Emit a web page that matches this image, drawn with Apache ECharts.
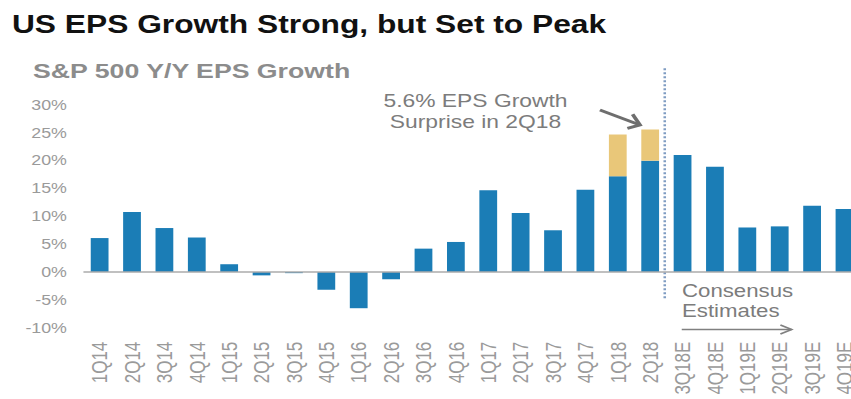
<!DOCTYPE html>
<html><head><meta charset="utf-8">
<script src="https://cdn.jsdelivr.net/npm/echarts@6/dist/echarts.min.js"></script>
<style>
html,body{margin:0;padding:0;overflow:hidden;background:#fff;width:851px;height:399px}
#c{width:690px;height:399px;transform:scaleX(1.27);transform-origin:0 0;}
</style>
</head><body><div id="c"></div>
<script>
// ---- data ----
const categories = ['1Q14','2Q14','3Q14','4Q14','1Q15','2Q15','3Q15','4Q15','1Q16','2Q16','3Q16','4Q16',
  '1Q17','2Q17','3Q17','4Q17','1Q18','2Q18','3Q18E','4Q18E','1Q19E','2Q19E','3Q19E','4Q19E'];
const epsGrowth = [6.1, 10.8, 7.9, 6.2, 1.4, -0.6, -0.2, -3.2, -6.5, -1.3, 4.2, 5.4,
  14.7, 10.6, 7.5, 14.8, 17.2, 20.0, 21.0, 18.9, 8.0, 8.2, 11.9, 11.3];
const surprise = [null,null,null,null,null,null,null,null,null,null,null,null,
  null,null,null,null,7.5,5.6,null,null,null,null,null,null];
const yMin = -10, yMax = 30, yStep = 5;
const dividerX = 17.95;          // between 2Q18 and 3Q18E on a 0..24 scale
const dividerY = [36.6, -5.0];
const titleText = 'US EPS Growth Strong, but Set to Peak';
const subtitleText = 'S&P 500 Y/Y EPS Growth';
const noteLines = ['5.6% EPS Growth', 'Surprise in 2Q18'];
const consensusLines = ['Consensus', 'Estimates'];

const FONT = '"Liberation Sans", Arial, sans-serif';
const chart = echarts.init(document.getElementById('c'), null, {renderer: 'svg'});

chart.setOption({
  animation: false,
  backgroundColor: '#fff',
  grid: {left: 65.7, top: 105, width: 612, height: 222.7, containLabel: false},
  xAxis: [{
    type: 'category', data: categories, gridIndex: 0,
    axisLine: {show: false}, axisTick: {show: false},
    axisLabel: {rotate: 90, interval: 0, margin: 14, color: '#9a9a9a', fontSize: 17, fontFamily: FONT}
  }, {
    type: 'value', min: 0, max: 24, show: false, gridIndex: 0
  }],
  yAxis: {
    type: 'value', min: yMin, max: yMax, interval: yStep,
    axisLine: {show: false}, axisTick: {show: false}, splitLine: {show: false},
    axisLabel: {formatter: '{value}%', margin: 13, color: '#9a9a9a', fontSize: 14, fontFamily: FONT}
  },
  series: [{
    type: 'bar', name: 'EPS', data: epsGrowth, stack: 'a', barWidth: 14,
    itemStyle: {color: '#1b7db6'},
    markLine: {silent: true, symbol: 'none', label: {show: false},
      lineStyle: {color: '#ababab', width: 1.5, type: 'solid'},
      data: [{yAxis: 0}]}
  }, {
    type: 'bar', name: 'Surprise', data: surprise, stack: 'a', barWidth: 14,
    itemStyle: {color: '#e9c779'}
  }, {
    type: 'line', xAxisIndex: 1, yAxisIndex: 0, clip: false, symbol: 'none', silent: true,
    data: [[dividerX, dividerY[0]], [dividerX, dividerY[1]]],
    lineStyle: {color: '#7f9cc2', width: 2, type: [2, 2]}
  }],
  graphic: [
    {type: 'text', x: 9.4, y: 24, style: {text: titleText, font: 'bold 25px ' + FONT, fill: '#111', align: 'left', verticalAlign: 'middle'}},
    {type: 'text', x: 26, y: 71, style: {text: subtitleText, font: 'bold 21px ' + FONT, fill: '#8c8c8c', align: 'left', verticalAlign: 'middle'}},
    {type: 'text', x: 374.4, y: 111, style: {text: noteLines.join('\n'), font: '18px ' + FONT, lineHeight: 20.5, fill: '#7c7c7c', align: 'center', verticalAlign: 'middle'}},
    {type: 'text', x: 537, y: 301, style: {text: consensusLines.join('\n'), font: '17.5px ' + FONT, lineHeight: 19.6, fill: '#7c7c7c', align: 'left', verticalAlign: 'middle'}},
    // note arrow
    {type: 'polyline', shape: {points: [[472.4, 110], [503.9, 125]]}, style: {stroke: '#6e6e6e', lineWidth: 3, fill: null}},
    {type: 'polyline', shape: {points: [[498.1, 114.3], [503.9, 125], [494.0, 128.3]]}, style: {stroke: '#6e6e6e', lineWidth: 3, fill: null, lineJoin: 'miter'}},
    // consensus arrow
    {type: 'polyline', shape: {points: [[536.8, 329.5], [623.4, 329.5]]}, style: {stroke: '#808080', lineWidth: 1.5, fill: null}},
    {type: 'polyline', shape: {points: [[614.5, 325], [623.4, 329.5], [614.5, 334]]}, style: {stroke: '#808080', lineWidth: 1.5, fill: null}}
  ]
});
</script>
</body></html>
